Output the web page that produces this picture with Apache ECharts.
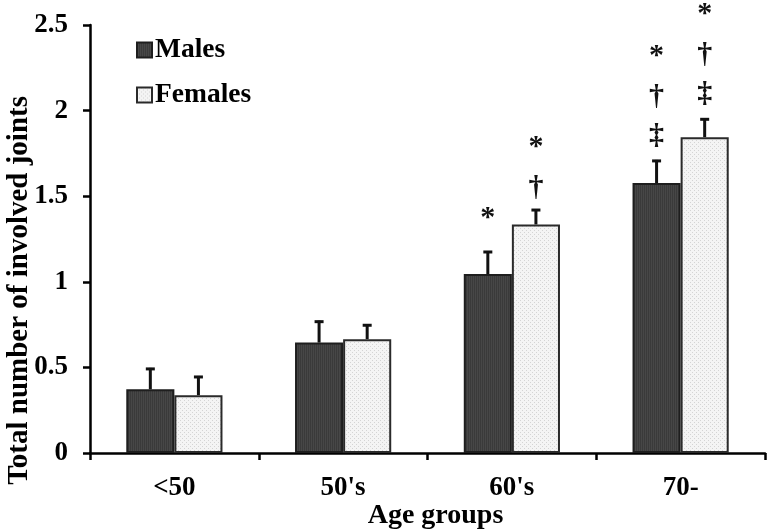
<!DOCTYPE html>
<html>
<head>
<meta charset="utf-8">
<script src="https://cdn.jsdelivr.net/npm/echarts@6/dist/echarts.min.js"></script>
<style>html,body{margin:0;padding:0;background:#fff}#c{width:767px;height:530px}</style>
</head>
<body>
<div id="c"></div>
<script>
const categories = ['<50', "50's", "60's", '70-'];
const males = [0.372, 0.645, 1.045, 1.577];
const malesErr = [0.125, 0.128, 0.135, 0.135];
const females = [0.338, 0.665, 1.335, 1.845];
const femalesErr = [0.112, 0.087, 0.09, 0.11];
const malesMarks = [[], [], ['*'], ['*', '†', '‡']];
const femalesMarks = [[], [], ['*', '†'], ['*', '†', '‡']];
const yTicks = [0, 0.5, 1, 1.5, 2, 2.5];

const FONT = "'Liberation Serif', 'DejaVu Serif', serif";
// spacing styles for the significance symbols (pixels, relative to the error cap)
const markGap = { '*': 39, '†': 24, '‡': 26 };
const markStep = { '*': 44, '†': 40, '‡': 40 };
const markShift = { '*': 6, '†': 3, '‡': 2 };

function makePattern(bg, fg, type) {
  const c = document.createElement('canvas');
  c.width = 4; c.height = 4;
  const g = c.getContext('2d');
  g.fillStyle = bg; g.fillRect(0, 0, 4, 4);
  g.fillStyle = fg;
  if (type === 'dots') {
    g.fillRect(0, 0, 1, 1); g.fillRect(2, 2, 1, 1);
  } else {
    g.fillRect(0, 0, 1, 4); g.fillRect(2, 0, 1, 4);
  }
  return c;
}
const malePattern = { image: makePattern('#474747', '#3a3a3a', 'stripes'), repeat: 'repeat' };
const femalePattern = { image: makePattern('#f4f4f4', '#d4d4d4', 'dots'), repeat: 'repeat' };

const chart = echarts.init(document.getElementById('c'), null, { renderer: 'canvas' });

function errSeries(vals, errs, marks, side) {
  return {
    type: 'custom',
    coordinateSystem: 'cartesian2d',
    silent: true,
    z: 5,
    clip: false,
    encode: { x: 0, y: 2 },
    data: vals.map((v, i) => [i, v, v + errs[i]]),
    renderItem: function (params, api) {
      const i = api.value(0);
      const band = api.size([1, 0])[0];
      const off = side * band * 0.57 / 4;
      const p0 = api.coord([i, api.value(1)]);
      const p1 = api.coord([i, api.value(2)]);
      const x = p0[0] + off;
      const children = [
        { type: 'line', shape: { x1: x, y1: p0[1], x2: x, y2: p1[1] }, style: { stroke: '#111', lineWidth: 3 } },
        { type: 'line', shape: { x1: x - 4.5, y1: p1[1] + 1, x2: x + 4.5, y2: p1[1] + 1 }, style: { stroke: '#111', lineWidth: 3 } }
      ];
      const m = marks[i];
      let yv = p1[1];
      for (let k = m.length - 1; k >= 0; k--) {
        const g = m[k];
        yv -= (k === m.length - 1) ? markGap[g] : markStep[g];
        children.push({
          type: 'text',
          style: {
            text: g, x: x, y: yv + markShift[g],
            align: 'center', verticalAlign: 'middle',
            font: 'bold 30px ' + FONT, fill: '#111'
          }
        });
      }
      return { type: 'group', children: children };
    }
  };
}

chart.setOption({
  animation: false,
  grid: { left: 90, right: 2, top: 25, bottom: 77, containLabel: false, outerBoundsMode: 'none' },
  legend: {
    data: ['Males', 'Females'],
    orient: 'vertical',
    left: 131, top: 31,
    itemWidth: 15, itemHeight: 15, itemGap: 17,
    icon: 'rect',
    textStyle: { fontFamily: FONT, fontWeight: 'bold', fontSize: 27.5, color: '#000', padding: [0, 0, 0, -2] }
  },
  xAxis: {
    type: 'category',
    data: categories,
    name: 'Age groups',
    nameLocation: 'middle',
    nameGap: 49,
    nameMoveOverlap: false,
    nameTextStyle: { fontFamily: FONT, fontWeight: 'bold', fontSize: 28, color: '#000', padding: [0, 0, 0, 16] },
    axisLine: { lineStyle: { color: '#000', width: 2.5 } },
    axisTick: { show: true, interval: 0, length: 7, lineStyle: { color: '#000', width: 2.5 } },
    axisLabel: { fontFamily: FONT, fontWeight: 'bold', fontSize: 27, color: '#000', margin: 22, interval: 0 }
  },
  yAxis: {
    type: 'value',
    min: 0, max: 2.5, interval: 0.5,
    axisLine: { show: true, lineStyle: { color: '#000', width: 2.5 } },
    axisTick: { show: true, length: 7, lineStyle: { color: '#000', width: 2.5 } },
    splitLine: { show: false },
    axisLabel: {
      fontFamily: FONT, fontWeight: 'bold', fontSize: 27, color: '#000', margin: 22,
      formatter: v => String(yTicks.find(t => Math.abs(t - v) < 1e-9) ?? v)
    }
  },
  graphic: [{
    type: 'text',
    left: 5, top: 96,
    rotation: Math.PI / 2,
    style: {
      text: 'Total number of involved joints',
      font: 'bold 29px ' + FONT, fill: '#000'
    }
  }],
  series: [
    {
      name: 'Males', type: 'bar', data: males,
      barGap: '0%', barCategoryGap: '43%',
      itemStyle: { color: malePattern, borderColor: '#1e1e1e', borderWidth: 2 }
    },
    {
      name: 'Females', type: 'bar', data: females,
      barGap: '0%', barCategoryGap: '43%',
      itemStyle: { color: femalePattern, borderColor: '#2a2a2a', borderWidth: 2 }
    },
    errSeries(males, malesErr, malesMarks, -1),
    errSeries(females, femalesErr, femalesMarks, 1)
  ]
});
</script>
</body>
</html>
